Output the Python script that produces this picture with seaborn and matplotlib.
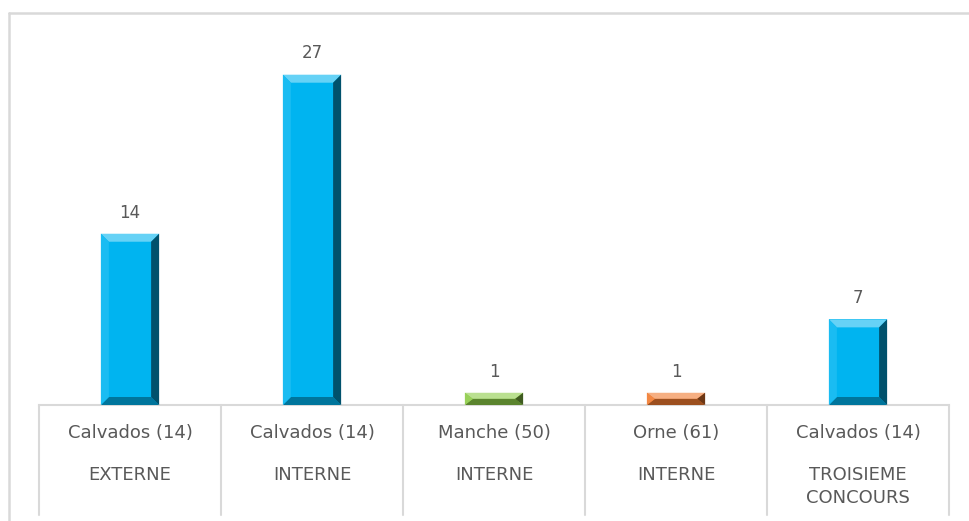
import numpy as np
import pandas as pd
import matplotlib
matplotlib.use("Agg")
import matplotlib.pyplot as plt
from matplotlib.patches import Polygon
from matplotlib.lines import Line2D
import seaborn as sns

# Data
departements = ["Calvados (14)", "Calvados (14)", "Manche (50)", "Orne (61)", "Calvados (14)"]
types = ["EXTERNE", "INTERNE", "INTERNE", "INTERNE", "TROISIEME\nCONCOURS"]
values = [14, 27, 1, 1, 7]
colors = ["#00B4F0", "#00B4F0", "#8CCB46", "#F07A2E", "#00B4F0"]

df = pd.DataFrame({"pos": range(len(values)), "value": values})

sns.set_style("white")
plt.rcParams["font.family"] = ["DejaVu Sans"]
text_color = "#595959"
grid_color = "#D9D9D9"

fig = plt.figure(figsize=(9.7, 5.21), dpi=100)
ax = fig.add_axes([39 / 970, 1 - 405 / 521, 910 / 970, 367 / 521])

sns.barplot(data=df, x="pos", y="value", hue="pos", palette=colors,
            width=0.32, legend=False, ax=ax, saturation=1, edgecolor="none")

ax.set_xlim(-0.5, len(values) - 0.5)
ax.set_ylim(0, 30)


def shade(c, f):
    c = np.array(matplotlib.colors.to_rgb(c))
    if f >= 0:
        return tuple(c + (1 - c) * f)
    return tuple(c * (1 + f))


# bevel effect on each bar, from the bar geometry
px_x = 910 / len(values)      # pixels per category unit
px_y = 367 / 30               # pixels per value unit
for p, col in zip(ax.patches, colors):
    x0, w, h = p.get_x(), p.get_width(), p.get_height()
    x1 = x0 + w
    bh = min(8, h * px_y / 2) / px_y
    bw = min(8, w * px_x / 2) / px_x
    # top facet
    ax.add_patch(Polygon([(x0, h), (x1, h), (x1 - bw, h - bh), (x0 + bw, h - bh)],
                         color=shade(col, 0.4), lw=0, zorder=3))
    # bottom facet
    ax.add_patch(Polygon([(x0, 0), (x1, 0), (x1 - bw, bh), (x0 + bw, bh)],
                         color=shade(col, -0.35), lw=0, zorder=3))
    # left facet
    ax.add_patch(Polygon([(x0, 0), (x0 + bw, bh), (x0 + bw, h - bh), (x0, h)],
                         color=shade(col, 0.1), lw=0, zorder=3))
    # right facet
    ax.add_patch(Polygon([(x1, 0), (x1 - bw, bh), (x1 - bw, h - bh), (x1, h)],
                         color=shade(col, -0.55), lw=0, zorder=3))
    ax.text(x0 + w / 2, h + 1.0, str(int(h)), ha="center", va="bottom",
            fontsize=12, color=text_color)

for s in ["top", "right", "left"]:
    ax.spines[s].set_visible(False)
ax.spines["bottom"].set_color(grid_color)
ax.spines["bottom"].set_linewidth(1.5)
ax.set_yticks([])
ax.set_ylabel("")
ax.set_xlabel("")

ax.set_xticks(range(len(values)))
ax.set_xticklabels(departements, fontsize=13, color=text_color)
ax.tick_params(axis="x", length=0, pad=14)

trans = ax.get_xaxis_transform()
for i, t in enumerate(types):
    ax.text(i, -61 / 367, t, transform=trans, ha="center", va="top",
            fontsize=13, color=text_color, linespacing=1.35)

# vertical separators between categories
for b in np.arange(-0.5, len(values), 1.0):
    ax.plot([b, b], [0, -110 / 367], transform=trans, color=grid_color,
            lw=1.5, clip_on=False)

# outer chart frame (top and left edges visible)
fig.add_artist(Line2D([9 / 970, 1.0], [1 - 13 / 521, 1 - 13 / 521],
                      transform=fig.transFigure, color=grid_color, lw=1.8))
fig.add_artist(Line2D([9 / 970, 9 / 970], [0, 1 - 13 / 521],
                      transform=fig.transFigure, color=grid_color, lw=1.8))

fig.savefig("out.png", dpi=100)
